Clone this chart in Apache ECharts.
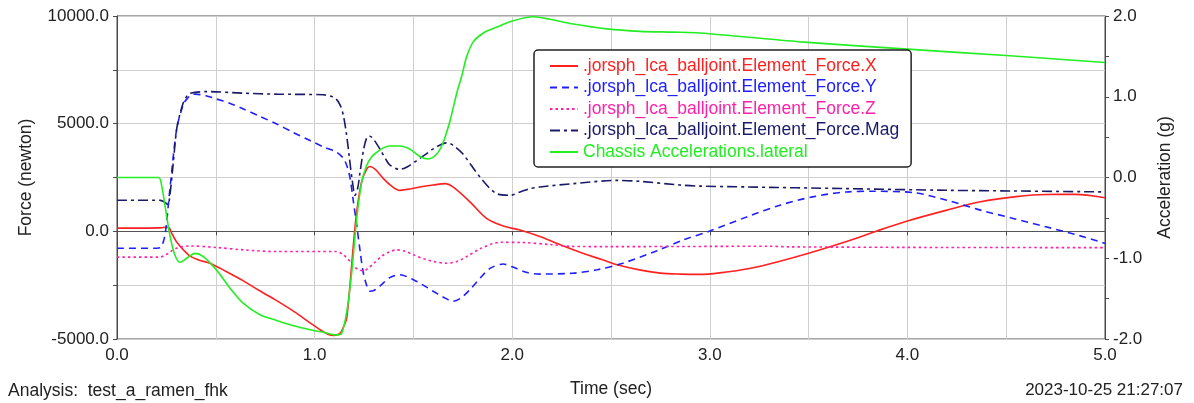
<!DOCTYPE html>
<html>
<head>
<meta charset="utf-8">
<title>jorsph_lca_balljoint forces</title>
<script src="https://cdn.jsdelivr.net/npm/echarts@6/dist/echarts.min.js"></script>
<style>
  html, body { margin: 0; padding: 0; background: #fff; }
  #chart { width: 1194px; height: 403px; }
</style>
</head>
<body>
<div id="chart"></div>
<script>
// Element force components (newton) of the lower control arm ball joint
var forceXTime = [0, 0.22, 0.25, 0.265, 0.277, 0.30, 0.34, 0.37, 0.42, 0.47, 0.55, 0.64, 0.72, 0.81, 0.90, 0.977, 1.03, 1.07, 1.10, 1.13, 1.148, 1.162, 1.18, 1.196, 1.213, 1.238, 1.264, 1.28, 1.31, 1.348, 1.39, 1.43, 1.47, 1.533, 1.60, 1.66, 1.70, 1.786, 1.87, 1.955, 2.04, 2.14, 2.25, 2.35, 2.45, 2.53, 2.65, 2.75, 2.85, 2.95, 3.05, 3.2, 3.35, 3.5, 3.7, 3.85, 4.0, 4.2, 4.37, 4.55, 4.7, 4.85, 5.0];
var forceX     = [150, 160, 190, 150, -90, -470, -900, -1150, -1350, -1480, -1850, -2300, -2750, -3230, -3750, -4250, -4580, -4790, -4830, -4720, -4400, -4050, -2400, -650, 900, 2300, 2900, 3010, 2850, 2450, 2100, 1900, 1950, 2060, 2150, 2215, 2060, 1370, 600, 245, 60, -245, -650, -1000, -1300, -1550, -1800, -1940, -1985, -2000, -1930, -1730, -1400, -1020, -450, 30, 480, 985, 1370, 1610, 1710, 1715, 1560];

var forceYTime = [0, 0.20, 0.222, 0.243, 0.268, 0.302, 0.336, 0.353, 0.375, 0.395, 0.45, 0.505, 0.57, 0.64, 0.72, 0.808, 0.89, 0.977, 1.05, 1.11, 1.145, 1.165, 1.18, 1.196, 1.213, 1.23, 1.246, 1.265, 1.28, 1.30, 1.33, 1.38, 1.43, 1.50, 1.55, 1.60, 1.65, 1.70, 1.74, 1.786, 1.84, 1.89, 1.955, 2.0, 2.07, 2.14, 2.31, 2.43, 2.56, 2.73, 2.866, 3.0, 3.19, 3.355, 3.52, 3.69, 3.83, 4.03, 4.2, 4.37, 4.535, 4.70, 4.87, 5.0];
var forceY     = [-785, -785, -740, -170, 1985, 4750, 5900, 6140, 6330, 6370, 6300, 6140, 5950, 5680, 5350, 4985, 4600, 4215, 3900, 3680, 3400, 3000, 2450, 1400, 300, -900, -1900, -2550, -2780, -2750, -2550, -2150, -2015, -2245, -2500, -2780, -3050, -3245, -3100, -2710, -2150, -1710, -1520, -1650, -1900, -1985, -1940, -1785, -1480, -910, -400, 15, 680, 1215, 1600, 1830, 1860, 1800, 1445, 985, 600, 215, -200, -560];

var forceZTime = [0, 0.21, 0.235, 0.26, 0.30, 0.37, 0.505, 0.64, 0.81, 1.11, 1.145, 1.175, 1.20, 1.23, 1.25, 1.27, 1.30, 1.34, 1.38, 1.415, 1.46, 1.50, 1.56, 1.60, 1.668, 1.72, 1.77, 1.84, 1.90, 1.94, 2.05, 2.2, 2.3, 2.5, 3.0, 3.3, 3.4, 4.2, 5.0];
var forceZ     = [-1200, -1200, -1150, -1015, -785, -680, -750, -860, -940, -940, -1090, -1350, -1650, -1800, -1830, -1720, -1480, -1150, -950, -860, -930, -1090, -1300, -1400, -1480, -1400, -1170, -800, -580, -510, -520, -620, -700, -710, -700, -690, -720, -750, -755];

var forceMagTime = [0, 0.22, 0.245, 0.258, 0.268, 0.285, 0.302, 0.32, 0.336, 0.355, 0.37, 0.454, 0.64, 0.808, 1.044, 1.09, 1.11, 1.13, 1.145, 1.16, 1.175, 1.19, 1.205, 1.218, 1.23, 1.248, 1.265, 1.28, 1.30, 1.33, 1.36, 1.38, 1.43, 1.47, 1.517, 1.56, 1.60, 1.668, 1.70, 1.75, 1.837, 1.92, 1.99, 2.04, 2.09, 2.14, 2.31, 2.53, 2.647, 2.85, 2.95, 3.19, 3.69, 4.2, 4.535, 5.0];
var forceMag     = [1445, 1440, 1330, 1230, 1700, 3200, 4750, 5500, 5985, 6300, 6415, 6490, 6415, 6370, 6340, 6250, 6140, 5850, 5400, 4600, 3500, 2400, 1675, 2000, 2750, 3800, 4370, 4415, 4250, 3830, 3350, 3090, 2875, 3000, 3290, 3560, 3830, 4110, 4000, 3600, 2520, 1755, 1675, 1830, 1985, 2060, 2215, 2365, 2320, 2150, 2100, 2060, 1985, 1905, 1875, 1830];

// Chassis lateral acceleration (g), plotted on the right axis
var accelTime = [0, 0.21, 0.226, 0.243, 0.268, 0.293, 0.319, 0.353, 0.395, 0.437, 0.505, 0.572, 0.64, 0.724, 0.808, 0.9, 0.977, 1.05, 1.11, 1.137, 1.163, 1.188, 1.213, 1.238, 1.263, 1.29, 1.314, 1.35, 1.38, 1.43, 1.483, 1.533, 1.576, 1.618, 1.65, 1.685, 1.72, 1.744, 1.77, 1.803, 1.854, 1.92, 1.99, 2.107, 2.19, 2.31, 2.48, 2.647, 2.815, 2.95, 3.46, 4.0, 4.5, 5.0];
var accelLateral = [0.0, 0.0, -0.10, -0.35, -0.72, -0.96, -1.05, -1.00, -0.94, -0.98, -1.15, -1.37, -1.56, -1.70, -1.77, -1.84, -1.885, -1.92, -1.95, -1.93, -1.66, -1.17, -0.51, -0.06, 0.145, 0.26, 0.31, 0.37, 0.39, 0.39, 0.35, 0.26, 0.23, 0.29, 0.43, 0.70, 1.05, 1.25, 1.50, 1.68, 1.79, 1.86, 1.93, 1.99, 1.96, 1.90, 1.84, 1.81, 1.80, 1.79, 1.68, 1.59, 1.51, 1.425];

// Axis ticks
var forceTicks = { min: -5000, max: 10000, interval: 2500, labelStep: 5000 };
var accelTicks = { min: -2, max: 2, interval: 0.5, labelStep: 1 };
var timeTicks  = { min: 0, max: 5, interval: 0.5, labelStep: 1 };

var seriesNames = [
  '.jorsph_lca_balljoint.Element_Force.X',
  '.jorsph_lca_balljoint.Element_Force.Y',
  '.jorsph_lca_balljoint.Element_Force.Z',
  '.jorsph_lca_balljoint.Element_Force.Mag',
  'Chassis Accelerations.lateral'
];
var seriesColors = ['#ff2020', '#2020ff', '#ff20a8', '#1a1a6a', '#22ee22'];
var seriesDash = ['solid', [7, 5], [2.5, 3], [10, 4, 3, 4], 'solid'];

function pairs(ts, vs) {
  return ts.map(function (t, i) { return [t, vs[i]]; });
}

function majorLabel(step) {
  return function (v) {
    var k = v / step;
    return Math.abs(k - Math.round(k)) < 1e-9 ? v.toFixed(1) : '';
  };
}

var FONT = 'Liberation Sans, Arial, Helvetica, sans-serif';
var TICK_FONT = 17;
var TEXT_FONT = 17.5;
var AXIS_LINE = { show: true, lineStyle: { color: '#4a4a4a', width: 1 } };
var TICK = { show: true, inside: false, length: 4, lineStyle: { color: '#4a4a4a', width: 1 } };

var lineData = [
  { name: seriesNames[0], data: pairs(forceXTime, forceX), axis: 0 },
  { name: seriesNames[1], data: pairs(forceYTime, forceY), axis: 0 },
  { name: seriesNames[2], data: pairs(forceZTime, forceZ), axis: 0 },
  { name: seriesNames[3], data: pairs(forceMagTime, forceMag), axis: 0 },
  { name: seriesNames[4], data: pairs(accelTime, accelLateral), axis: 1 }
];

var series = lineData.map(function (d, i) {
  var s = {
    name: d.name,
    type: 'line',
    yAxisIndex: d.axis,
    data: d.data,
    smooth: 0.3,
    symbol: 'none',
    animation: false,
    z: 3,
    lineStyle: { color: seriesColors[i], width: 1.6, type: seriesDash[i] },
    itemStyle: { color: seriesColors[i] }
  };
  if (i === 0) {
    // zero-force reference line
    s.markLine = {
      silent: true,
      symbol: ['none', 'none'],
      label: { show: false },
      animation: false,
      lineStyle: { color: '#555555', width: 1, type: 'solid' },
      data: [{ yAxis: 0 }],
      z: 1
    };
  }
  return s;
});

var chart = echarts.init(document.getElementById('chart'), null, { renderer: 'canvas' });
chart.setOption({
  backgroundColor: '#ffffff',
  animation: false,
  textStyle: { fontFamily: FONT },
  grid: {
    left: 117, right: 89, top: 16, bottom: 62,
    show: true, borderColor: '#4a4a4a', borderWidth: 1, backgroundColor: 'transparent'
  },
  legend: {
    orient: 'vertical',
    left: 534,
    top: 50,
    padding: [7, 12, 6, 15],
    itemWidth: 28,
    itemHeight: 14,
    itemGap: 3.5,
    backgroundColor: '#ffffff',
    borderColor: '#222222',
    borderWidth: 1.5,
    borderRadius: 4,
    z: 10,
    selectedMode: false,
    // line-only keys: hide the marker drawn on top of each key line
    itemStyle: { opacity: 0 },
    textStyle: { fontSize: TEXT_FONT, fontFamily: FONT },
    data: seriesNames.map(function (n, i) {
      return { name: n, textStyle: { color: seriesColors[i] } };
    })
  },
  xAxis: {
    type: 'value',
    min: timeTicks.min, max: timeTicks.max, interval: timeTicks.interval,
    name: 'Time (sec)',
    nameLocation: 'middle',
    nameGap: 41,
    nameTextStyle: { fontSize: TEXT_FONT, color: '#222', fontFamily: FONT },
    axisLine: AXIS_LINE,
    axisTick: TICK,
    axisLabel: { fontSize: TICK_FONT, color: '#222', margin: 8, fontFamily: FONT, formatter: majorLabel(timeTicks.labelStep) },
    splitLine: { show: true, lineStyle: { color: '#cfcfcf', width: 1 } }
  },
  yAxis: [
    {
      type: 'value',
      position: 'left',
      min: forceTicks.min, max: forceTicks.max, interval: forceTicks.interval,
      name: 'Force (newton)',
      nameLocation: 'middle',
      nameGap: 82,
      nameTextStyle: { fontSize: TEXT_FONT, color: '#222', fontFamily: FONT },
      axisLine: AXIS_LINE,
      axisTick: TICK,
      axisLabel: { fontSize: TICK_FONT, color: '#222', margin: 8, fontFamily: FONT, formatter: majorLabel(forceTicks.labelStep) },
      splitLine: { show: true, lineStyle: { color: '#cfcfcf', width: 1 } }
    },
    {
      type: 'value',
      position: 'right',
      min: accelTicks.min, max: accelTicks.max, interval: accelTicks.interval,
      name: 'Acceleration (g)',
      nameLocation: 'middle',
      nameGap: 51,
      nameTextStyle: { fontSize: TEXT_FONT, color: '#222', fontFamily: FONT },
      axisLine: AXIS_LINE,
      axisTick: TICK,
      axisLabel: { fontSize: TICK_FONT, color: '#222', margin: 8, fontFamily: FONT, formatter: majorLabel(accelTicks.labelStep) },
      splitLine: { show: false }
    }
  ],
  graphic: [
    {
      type: 'text', left: 8, top: 382,
      style: { text: 'Analysis:  test_a_ramen_fhk', font: TEXT_FONT + 'px ' + FONT, fill: '#222' }
    },
    {
      type: 'text', right: 11, top: 382,
      style: { text: '2023-10-25 21:27:07', font: TICK_FONT + 'px ' + FONT, fill: '#222' }
    }
  ],
  series: series
});
</script>
</body>
</html>
